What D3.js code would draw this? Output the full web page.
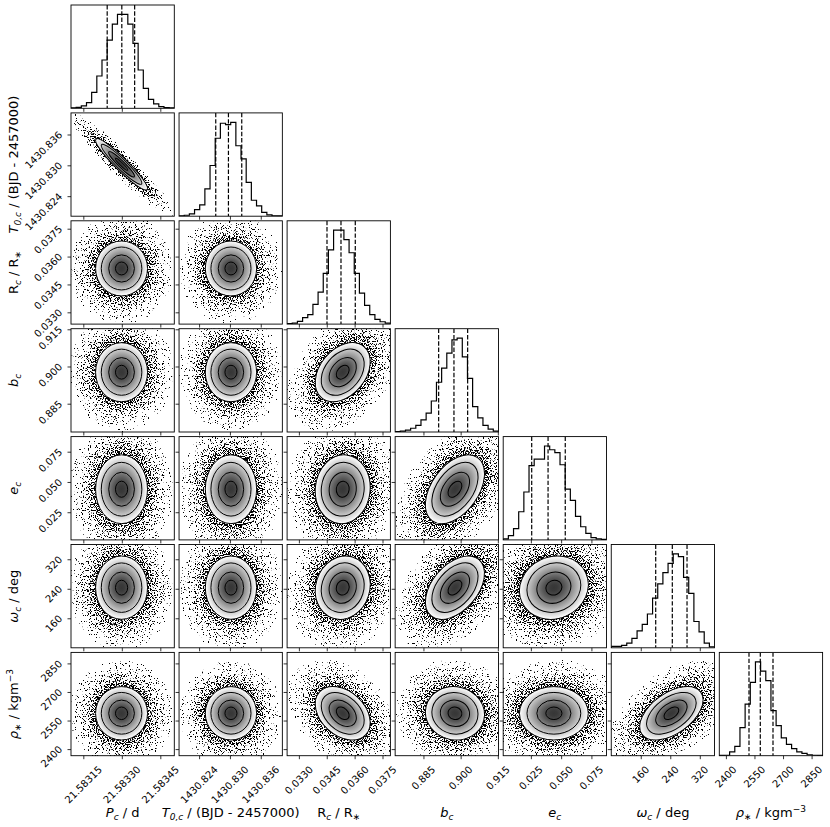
<!DOCTYPE html>
<html><head><meta charset="utf-8">
<script src="https://cdn.jsdelivr.net/npm/d3@7"></script>
<style>body{margin:0;background:#fff} svg{display:block}</style>
</head><body>
<svg id="c" width="830" height="827"></svg>
<script>
// ---------------- data ----------------
const variables = ["P_c","T0_c","R_c","b_c","e_c","omega_c","rho_star"];
const domains = [[21.583102,21.5835045],[1430.8201,1430.8402],[0.032366,0.037925],[0.87359,0.91524],[0.00215,0.08746],[80,360],[2365.4,2907.7]];
const tickValues = [
  [21.58315,21.58330,21.58345],
  [1430.824,1430.830,1430.836],
  [0.0330,0.0345,0.0360,0.0375],
  [0.885,0.900,0.915],
  [0.025,0.050,0.075],
  [160,240,320],
  [2400,2550,2700,2850]
];
const tickFormats = [".5f",".3f",".4f",".3f",".3f","d","d"];
// 20-bin histograms (relative counts)
const histP   = [1,3,7,17,48,97,145,205,253,282,282,253,195,115,60,27,13,5,2,1];
const histT0  = [5,10,25,70,120,290,540,830,990,975,1000,750,610,360,170,110,40,15,5,3];
const histR   = [5,10,30,70,100,210,340,540,790,1000,1000,900,760,540,330,200,100,50,25,10];
const histB   = [5,10,20,40,70,130,200,330,530,680,840,980,1000,800,570,270,150,70,30,10];
const histE   = [10,45,120,300,510,790,860,860,1000,960,930,800,540,420,250,140,70,25,10,5];
const histW   = [15,15,25,50,100,180,250,360,530,680,800,900,1000,970,750,580,280,170,50,10];
const histRho = [3,5,40,100,300,550,780,1000,900,800,480,320,190,120,75,40,25,10,5,4];
const hists = [histP,histT0,histR,histB,histE,histW,histRho];
// 16/50/84 % quantiles
const quantiles = [
  [21.583243,21.583300,21.583350],
  [1430.82724,1430.82971,1430.83230],
  [0.034513,0.035266,0.036035],
  [0.89113,0.89730,0.90282],
  [0.02569,0.03920,0.05340],
  [200.5,245.5,285.4],
  [2521.3,2580.6,2647.3]
];
// 2D contour centre and spread per variable
const center2d = [21.583299,1430.8302,0.035359,0.8977,0.0440,243,2588];
const sigma2d  = [0.0000527,0.0026,0.00077,0.0062,0.0148,44.7,73];
// correlations (row variable vs column variable)
const corrT0  = [-0.94];
const corrR   = [0.0,0.0];
const corrB   = [0.0,0.0,0.35];
const corrE   = [0.0,0.0,0.05,0.45];
const corrW   = [0.0,0.0,0.1,0.45,0.1];
const corrRho = [0.0,0.0,-0.35,-0.05,0.0,0.5];
const corr = [[],corrT0,corrR,corrB,corrE,corrW,corrRho];
const contourLevels = [0.45,0.95,1.5,1.92];
// axis labels: [text, style]
const labels = [
  [["P","i"],["c","isub"],[" / d",""]],
  [["T","i"],["0,c","isub"],[" / (BJD - 2457000)",""]],
  [["R",""],["c","isub"],[" / R",""],["∗","sub"]],
  [["b","i"],["c","isub"]],
  [["e","i"],["c","isub"]],
  [["ω","i"],["c","isub"],[" / deg",""]],
  [["ρ","i"],["∗","sub"],["  / kgm",""],["−3","sup"]]
];

// ---------------- layout ----------------
const N = 7, PW = 103.3, PH = 103.3;
const colLeft = i => 71 + i*108.05;
const rowTop  = i => 5 + i*107.9;
const FONT = "DejaVu Sans";
const xs = domains.map((d,i)=>d3.scaleLinear().domain(d).range([colLeft(i), colLeft(i)+PW]));
const ys = domains.map((d,i)=>d3.scaleLinear().domain(d).range([rowTop(i)+PH, rowTop(i)]));

const svg = d3.select("#c");
const defs = svg.append("defs");

// density shading gradient (white at outer contour -> dark at peak)
const dens = defs.append("radialGradient").attr("id","densGrad");
const Lout = contourLevels[contourLevels.length-1];
const edgeD = Math.exp(-0.5*Lout**2);
d3.range(0,11).forEach(k=>{
  const t = k/10, m = t*Lout;
  const v = (Math.exp(-0.5*m*m)-edgeD)/(1-edgeD);
  dens.append("stop").attr("offset",t).attr("stop-color", d3.interpolateRgb("#ffffff","#363636")(Math.pow(v,0.85)));
});
// scatter-density gradient for speckle ring
const mMax = 3.9;
const dotStops = [[0,0.54],[1.92,0.54],[2.2,0.5],[2.5,0.455],[2.8,0.42],[3.1,0.39],[3.4,0.365],[3.9,0.33]];
const dg = defs.append("radialGradient").attr("id","dotGrad");
dotStops.forEach(s=>dg.append("stop").attr("offset",s[0]/mMax).attr("stop-color","#000").attr("stop-opacity",s[1]));
// speckle filter
const f = defs.append("filter").attr("id","speckle").attr("x","-5%").attr("y","-5%").attr("width","110%").attr("height","110%")
  .attr("color-interpolation-filters","sRGB");
f.append("feTurbulence").attr("type","fractalNoise").attr("baseFrequency","0.85").attr("numOctaves","1").attr("seed","7").attr("result","noise");
f.append("feColorMatrix").attr("in","noise").attr("type","matrix")
  .attr("values","0 0 0 0 0  0 0 0 0 0  0 0 0 0 0  1 0 0 0 0").attr("result","na");
f.append("feComposite").attr("in","na").attr("in2","SourceAlpha").attr("operator","arithmetic")
  .attr("k1",0).attr("k2",1).attr("k3",1).attr("k4",-1).attr("result","sum");
const ct = f.append("feComponentTransfer").attr("in","sum");
ct.append("feFuncA").attr("type","linear").attr("slope",28).attr("intercept",0);

function ellipseGeom(i,j){
  const cx = xs[j](center2d[j]), cy = ys[i](center2d[i]);
  const sx = Math.abs(xs[j](center2d[j]+sigma2d[j]) - cx);
  const sy = Math.abs(ys[i](center2d[i]+sigma2d[i]) - cy);
  const r = -corr[i][j];
  const a = sx*sx, c = sy*sy, b = r*sx*sy;
  const tr = (a+c)/2, df = Math.sqrt(((a-c)/2)**2 + b*b);
  return {cx, cy, r1: Math.sqrt(tr+df), r2: Math.sqrt(Math.max(tr-df,0.01)), th: 0.5*Math.atan2(2*b, a-c)*180/Math.PI};
}

for (let i=0;i<N;i++){
  for (let j=0;j<=i;j++){
    const x0 = colLeft(j), y0 = rowTop(i);
    const clipId = `clip_${i}_${j}`;
    defs.append("clipPath").attr("id",clipId).append("rect").attr("x",x0).attr("y",y0).attr("width",PW).attr("height",PH);
    const g = svg.append("g");
    const inner = g.append("g").attr("clip-path",`url(#${clipId})`);
    if (i===j){
      const cnt = hists[i], dom = domains[i];
      const hy = d3.scaleLinear().domain([0, 1.1*d3.max(cnt)]).range([y0+PH, y0]);
      const edges = d3.range(cnt.length+1).map(k=>dom[0]+k*(dom[1]-dom[0])/cnt.length);
      const pts = [[edges[0],0]];
      cnt.forEach((c,k)=>{pts.push([edges[k],c]); pts.push([edges[k+1],c]);});
      pts.push([edges[cnt.length],0]);
      inner.append("path").attr("d", d3.line().x(d=>xs[i](d[0])).y(d=>hy(d[1]))(pts))
        .attr("fill","none").attr("stroke","#000").attr("stroke-width",1.2);
      quantiles[i].forEach(q=>{
        inner.append("line").attr("x1",xs[i](q)).attr("x2",xs[i](q)).attr("y1",y0).attr("y2",y0+PH)
          .attr("stroke","#000").attr("stroke-width",1.2).attr("stroke-dasharray","4.4,1.9");
      });
    } else {
      const e = ellipseGeom(i,j);
      const tf = `translate(${e.cx},${e.cy}) rotate(${e.th})`;
      inner.append("g").attr("filter","url(#speckle)")
        .append("ellipse").attr("transform",tf).attr("rx",mMax*e.r1).attr("ry",mMax*e.r2).attr("fill","url(#dotGrad)");
      inner.append("ellipse").attr("transform",tf).attr("rx",Lout*e.r1).attr("ry",Lout*e.r2).attr("fill","url(#densGrad)");
      contourLevels.forEach(m=>{
        inner.append("ellipse").attr("transform",tf).attr("rx",m*e.r1).attr("ry",m*e.r2)
          .attr("fill","none").attr("stroke","#000").attr("stroke-width",1);
      });
    }
    // ticks
    const ax = g.append("g").attr("transform",`translate(0,${y0+PH})`)
      .call(d3.axisBottom(xs[j]).tickValues(tickValues[j]).tickSize(3.5).tickFormat(""));
    ax.select(".domain").remove();
    ax.selectAll("line").attr("stroke","#000").attr("stroke-width",0.8);
    if (i!==j){
      const ay = g.append("g").attr("transform",`translate(${x0},0)`)
        .call(d3.axisLeft(ys[i]).tickValues(tickValues[i]).tickSize(3.5).tickFormat(""));
      ay.select(".domain").remove();
      ay.selectAll("line").attr("stroke","#000").attr("stroke-width",0.8);
    }
    g.append("rect").attr("x",x0).attr("y",y0).attr("width",PW).attr("height",PH)
      .attr("fill","none").attr("stroke","#000").attr("stroke-width",0.9);
  }
}

// x tick labels (bottom row)
const bottom = rowTop(N-1)+PH;
for (let j=0;j<N;j++){
  const fmt = d3.format(tickFormats[j]);
  tickValues[j].forEach(v=>{
    const t = svg.append("text").text(fmt(v)).attr("font-family",FONT).attr("font-size",10)
      .attr("text-anchor","middle").attr("dominant-baseline","central");
    const Lt = t.node().getComputedTextLength();
    const Wb = (Lt + 7.3)/Math.SQRT2;
    t.attr("transform",`translate(${xs[j](v)},${bottom+9.5+Wb/2}) rotate(-45)`);
  });
}
// y tick labels (left column)
for (let i=1;i<N;i++){
  const fmt = d3.format(tickFormats[i]);
  tickValues[i].forEach(v=>{
    svg.append("text").text(fmt(v)).attr("font-family",FONT).attr("font-size",10)
      .attr("text-anchor","end")
      .attr("transform",`translate(${colLeft(0)-8},${ys[i](v)+1}) rotate(-45)`);
  });
}

// axis labels
function writeLabel(sel, parts){
  let cur = 0;
  parts.forEach(([txt,st])=>{
    const ts = sel.append("tspan").text(txt);
    let target = 0, size = null;
    if (st.includes("i")) ts.attr("font-style","italic");
    if (st.includes("sub")) {target = 3; size = 9;}
    if (st.includes("sup")) {target = -5; size = 9;}
    if (size) ts.attr("font-size",size);
    ts.attr("dy", target-cur); cur = target;
  });
}
for (let j=0;j<N;j++){
  const t = svg.append("text").attr("x",colLeft(j)+PW/2).attr("y",817)
    .attr("font-family",FONT).attr("font-size",13).attr("text-anchor","middle");
  writeLabel(t, labels[j]);
}
for (let i=1;i<N;i++){
  const cy = rowTop(i)+PH/2;
  const t = svg.append("text").attr("x",0).attr("y",0)
    .attr("transform",`translate(18,${cy}) rotate(-90)`)
    .attr("font-family",FONT).attr("font-size",13).attr("text-anchor","middle");
  writeLabel(t, labels[i]);
}
</script>
</body></html>
